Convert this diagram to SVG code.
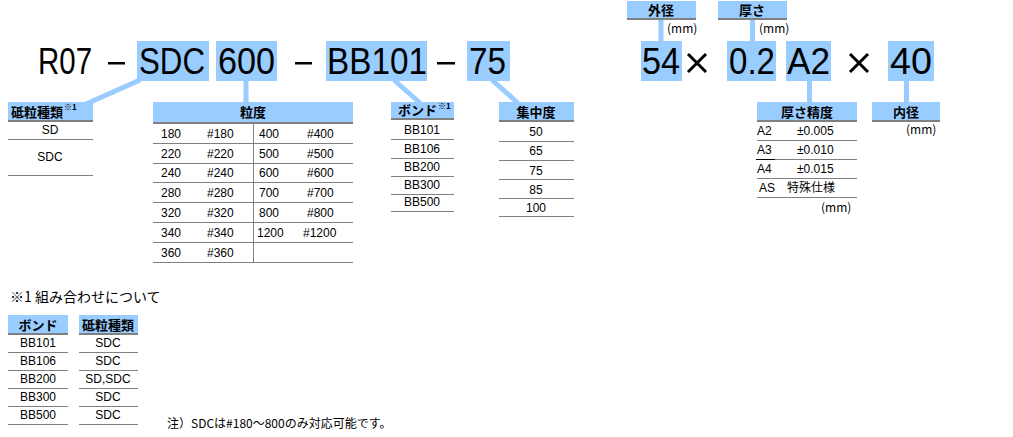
<svg xmlns="http://www.w3.org/2000/svg" width="1013" height="437" viewBox="0 0 1013 437">
<style>
.big{font-family:"Liberation Sans",Arial,sans-serif;font-size:36px;fill:#000}
.hl{fill:#99CCFF}
.hd{fill:#99CCFF}
.hdt{font-family:"Noto Sans CJK JP",sans-serif;font-size:13px;font-weight:bold;fill:#000;text-anchor:middle}
.sup{font-family:"Noto Sans CJK JP",sans-serif;font-size:8px;font-weight:bold;fill:#000}
.t{font-family:"Liberation Sans",Arial,"Noto Sans CJK JP",sans-serif;font-size:12px;fill:#000}
.c{text-anchor:middle}
.jp{font-family:"Noto Sans CJK JP",sans-serif;font-size:12px;fill:#000}
.hline{stroke:#808080;stroke-width:2}
.rline{stroke:#808080;stroke-width:1}
.conn{stroke:#99CCFF;stroke-width:5;fill:none}
</style>
<rect width="1013" height="437" fill="#fff"/>

<g id="code">
  <rect class="hl" x="137" y="41" width="72" height="40"/>
  <rect class="hl" x="216" y="41" width="61" height="40"/>
  <rect class="hl" x="326" y="41" width="101" height="40"/>
  <rect class="hl" x="467" y="41" width="43" height="40"/>
  <rect class="hl" x="641" y="41" width="41" height="40"/>
  <rect class="hl" x="727" y="41" width="49" height="40"/>
  <rect class="hl" x="786" y="41" width="45" height="40"/>
  <rect class="hl" x="888" y="41" width="46" height="40"/>
  <text class="big" x="38" y="74" textLength="54" lengthAdjust="spacingAndGlyphs">R07</text>
  <rect x="108" y="62" width="17" height="2.5" fill="#000"/>
  <text class="big" x="139" y="74" textLength="66" lengthAdjust="spacingAndGlyphs">SDC</text>
  <text class="big" x="218" y="74" textLength="57" lengthAdjust="spacingAndGlyphs">600</text>
  <rect x="295" y="62" width="17" height="2.5" fill="#000"/>
  <text class="big" x="327" y="74" textLength="100" lengthAdjust="spacingAndGlyphs">BB101</text>
  <rect x="437" y="62" width="18" height="2.5" fill="#000"/>
  <text class="big" x="469" y="74" textLength="37" lengthAdjust="spacingAndGlyphs">75</text>
  <text class="big" x="642" y="74" textLength="38" lengthAdjust="spacingAndGlyphs">54</text>
  <path d="M688 54 L706 72 M706 54 L688 72" stroke="#000" stroke-width="3"/>
  <text class="big" x="729" y="74" textLength="46" lengthAdjust="spacingAndGlyphs">0.2</text>
  <text class="big" x="787" y="74" textLength="43" lengthAdjust="spacingAndGlyphs">A2</text>
  <path d="M850 54 L868 72 M868 54 L850 72" stroke="#000" stroke-width="3"/>
  <text class="big" x="890" y="74" textLength="42" lengthAdjust="spacingAndGlyphs">40</text>
</g>

<g id="connectors">
  <line class="conn" x1="140" y1="80" x2="86" y2="104"/>
  <line class="conn" x1="246" y1="81" x2="246" y2="102" stroke-width="4"/>
  <line class="conn" x1="394" y1="80" x2="420" y2="103"/>
  <line class="conn" x1="492" y1="80" x2="518" y2="103"/>
  <line class="conn" x1="661" y1="19" x2="661" y2="41" stroke-width="4"/>
  <line class="conn" x1="752.5" y1="19" x2="752.5" y2="41" stroke-width="4"/>
  <line class="conn" x1="809.5" y1="81" x2="809.5" y2="102" stroke-width="4"/>
  <line class="conn" x1="906.5" y1="81" x2="906.5" y2="102" stroke-width="4"/>
</g>

<g id="gaikei">
  <rect class="hd" x="627" y="1" width="69" height="17"/>
  <line class="hline" x1="627" y1="19" x2="696" y2="19"/>
  <text class="hdt" x="661" y="15">外径</text>
  <text class="jp" x="667" y="33">(mm)</text>
</g>

<g id="atsusa">
  <rect class="hd" x="718" y="1" width="69" height="17"/>
  <line class="hline" x1="718" y1="19" x2="787" y2="19"/>
  <text class="hdt" x="752" y="15">厚さ</text>
  <text class="jp" x="759" y="33">(mm)</text>
</g>

<g id="toryu-shurui">
  <rect class="hd" x="8" y="102" width="85" height="18"/>
  <line class="hline" x1="8" y1="121" x2="93" y2="121"/>
  <text class="hdt" x="11" y="117" style="text-anchor:start">砥粒種類</text>
  <text class="sup" x="64" y="110">※1</text>
  <text class="t c" x="50" y="134">SD</text>
  <line class="rline" x1="8" y1="139.5" x2="93" y2="139.5"/>
  <text class="t c" x="50" y="161">SDC</text>
  <line class="rline" x1="8" y1="175.5" x2="93" y2="175.5"/>
</g>

<g id="ryudo">
  <rect class="hd" x="153" y="102" width="200" height="20"/>
  <line class="hline" x1="153" y1="123" x2="353" y2="123"/>
  <text class="hdt" x="253" y="117">粒度</text>
  <line class="rline" x1="253.5" y1="123" x2="253.5" y2="262"/>
  <g class="rline">
    <line x1="153" y1="143.5" x2="353" y2="143.5"/>
    <line x1="153" y1="163.5" x2="353" y2="163.5"/>
    <line x1="153" y1="182.5" x2="353" y2="182.5"/>
    <line x1="153" y1="202.5" x2="353" y2="202.5"/>
    <line x1="153" y1="222.5" x2="353" y2="222.5"/>
    <line x1="153" y1="242.5" x2="353" y2="242.5"/>
    <line x1="153" y1="262.5" x2="353" y2="262.5"/>
  </g>
  <text class="t" x="161" y="138">180</text><text class="t" x="207" y="138">#180</text><text class="t" x="259" y="138">400</text><text class="t" x="307" y="138">#400</text>
  <text class="t" x="161" y="158">220</text><text class="t" x="207" y="158">#220</text><text class="t" x="259" y="158">500</text><text class="t" x="307" y="158">#500</text>
  <text class="t" x="161" y="177">240</text><text class="t" x="207" y="177">#240</text><text class="t" x="259" y="177">600</text><text class="t" x="307" y="177">#600</text>
  <text class="t" x="161" y="197">280</text><text class="t" x="207" y="197">#280</text><text class="t" x="259" y="197">700</text><text class="t" x="307" y="197">#700</text>
  <text class="t" x="161" y="217">320</text><text class="t" x="207" y="217">#320</text><text class="t" x="259" y="217">800</text><text class="t" x="307" y="217">#800</text>
  <text class="t" x="161" y="237">340</text><text class="t" x="207" y="237">#340</text><text class="t" x="257" y="237">1200</text><text class="t" x="303" y="237">#1200</text>
  <text class="t" x="161" y="257">360</text><text class="t" x="207" y="257">#360</text>
</g>

<g id="bond">
  <rect class="hd" x="391" y="102" width="63" height="16"/>
  <line class="hline" x1="391" y1="119" x2="454" y2="119"/>
  <text class="hdt" x="398" y="115" style="text-anchor:start">ボンド</text>
  <text class="sup" x="438" y="109">※1</text>
  <text class="t c" x="422" y="134">BB101</text>
  <line class="rline" x1="391" y1="139.5" x2="454" y2="139.5"/>
  <text class="t c" x="422" y="153">BB106</text>
  <line class="rline" x1="391" y1="158.5" x2="454" y2="158.5"/>
  <text class="t c" x="422" y="171">BB200</text>
  <line class="rline" x1="391" y1="176.5" x2="454" y2="176.5"/>
  <text class="t c" x="422" y="189">BB300</text>
  <line class="rline" x1="391" y1="194.5" x2="454" y2="194.5"/>
  <text class="t c" x="422" y="206">BB500</text>
  <line class="rline" x1="391" y1="211.5" x2="454" y2="211.5"/>
</g>

<g id="shuchudo">
  <rect class="hd" x="499" y="102" width="75" height="18"/>
  <line class="hline" x1="499" y1="121" x2="574" y2="121"/>
  <text class="hdt" x="536" y="117">集中度</text>
  <text class="t c" x="536" y="136">50</text>
  <line class="rline" x1="499" y1="141.5" x2="574" y2="141.5"/>
  <text class="t c" x="536" y="155">65</text>
  <line class="rline" x1="499" y1="160.5" x2="574" y2="160.5"/>
  <text class="t c" x="536" y="175">75</text>
  <line class="rline" x1="499" y1="179.5" x2="574" y2="179.5"/>
  <text class="t c" x="536" y="194">85</text>
  <line class="rline" x1="499" y1="198.5" x2="574" y2="198.5"/>
  <text class="t c" x="536" y="212">100</text>
  <line class="rline" x1="499" y1="216.5" x2="574" y2="216.5"/>
</g>

<g id="atsusa-seido">
  <rect class="hd" x="757" y="102" width="100" height="18"/>
  <line class="hline" x1="757" y1="121" x2="857" y2="121"/>
  <text class="hdt" x="807" y="117">厚さ精度</text>
  <text class="t" x="757" y="135">A2</text><text class="t" x="797" y="135">±0.005</text>
  <line class="rline" x1="757" y1="140.5" x2="857" y2="140.5"/>
  <line x1="756" y1="159.5" x2="775" y2="159.5" stroke="#000" stroke-width="1"/>
  <text class="t" x="757" y="154">A3</text><text class="t" x="797" y="154">±0.010</text>
  <line class="rline" x1="775" y1="159.5" x2="857" y2="159.5"/>
  <text class="t" x="757" y="173">A4</text><text class="t" x="797" y="173">±0.015</text>
  <line class="rline" x1="757" y1="178.5" x2="857" y2="178.5"/>
  <text class="t" x="759" y="192">AS</text><text class="jp" x="787" y="192">特殊仕様</text>
  <line class="rline" x1="757" y1="197.5" x2="857" y2="197.5"/>
  <text class="jp" x="821" y="212">(mm)</text>
</g>

<g id="naikei">
  <rect class="hd" x="872" y="102" width="68" height="18"/>
  <line class="hline" x1="872" y1="121" x2="940" y2="121"/>
  <text class="hdt" x="906" y="117">内径</text>
  <text class="jp" x="906" y="134">(mm)</text>
</g>

<g id="note">
  <text class="jp" x="10" y="302" style="font-size:14px">※1 組み合わせについて</text>
  <rect class="hd" x="8" y="315" width="60" height="18"/>
  <line class="hline" x1="8" y1="334" x2="68" y2="334"/>
  <text class="hdt" x="38" y="330">ボンド</text>
  <rect class="hd" x="79" y="315" width="59" height="18"/>
  <line class="hline" x1="79" y1="334" x2="138" y2="334"/>
  <text class="hdt" x="108" y="330">砥粒種類</text>
  <g class="rline">
    <line x1="8" y1="352.5" x2="68" y2="352.5"/><line x1="79" y1="352.5" x2="138" y2="352.5"/>
    <line x1="8" y1="370.5" x2="68" y2="370.5"/><line x1="79" y1="370.5" x2="138" y2="370.5"/>
    <line x1="8" y1="388.5" x2="68" y2="388.5"/><line x1="79" y1="388.5" x2="138" y2="388.5"/>
    <line x1="8" y1="406.5" x2="68" y2="406.5"/><line x1="79" y1="406.5" x2="138" y2="406.5"/>
    <line x1="8" y1="424.5" x2="68" y2="424.5"/><line x1="79" y1="424.5" x2="138" y2="424.5"/>
  </g>
  <text class="t c" x="38" y="347">BB101</text><text class="t c" x="108" y="347">SDC</text>
  <text class="t c" x="38" y="365">BB106</text><text class="t c" x="108" y="365">SDC</text>
  <text class="t c" x="38" y="383">BB200</text><text class="t c" x="108" y="383">SD,SDC</text>
  <text class="t c" x="38" y="401">BB300</text><text class="t c" x="108" y="401">SDC</text>
  <text class="t c" x="38" y="419">BB500</text><text class="t c" x="108" y="419">SDC</text>
  <text class="jp" x="167" y="428">注）SDCは#180～800のみ対応可能です。</text>
</g>
</svg>
